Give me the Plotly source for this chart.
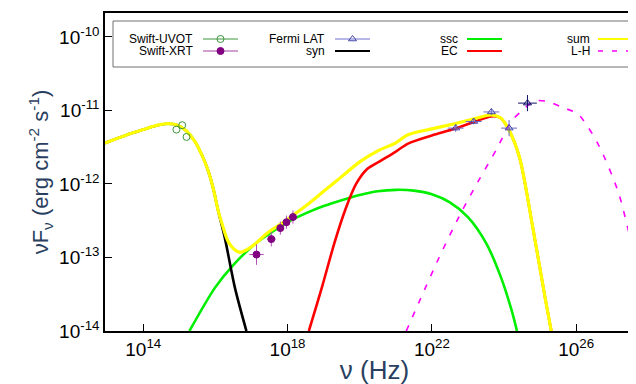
import numpy as np
import plotly.graph_objects as go

# ---------------- data (log10 values) ----------------
syn_lognu = [12.90, 13.5, 14.0, 14.4, 14.69, 14.95, 15.2, 15.43, 15.62, 15.80, 15.95, 16.08, 16.26, 16.54, 16.86]
syn_logf = [-11.45, -11.34, -11.26, -11.2, -11.18, -11.2, -11.28, -11.42, -11.6, -11.82, -12.08, -12.37, -12.73, -13.41, -14.0]

ssc_lognu = [15.28, 15.99, 16.5, 17.09, 17.46, 18.0, 18.5, 19.0, 19.5, 20.0, 20.5, 21.0, 21.5, 22.0, 22.5, 23.0, 23.5, 23.9, 24.2, 24.36]
ssc_logf = [-14.0, -13.41, -13.1, -12.82, -12.69, -12.52, -12.40, -12.30, -12.22, -12.15, -12.10, -12.08, -12.09, -12.14, -12.25, -12.45, -12.8, -13.25, -13.7, -14.0]

ec_lognu = [18.59, 18.95, 19.3, 19.6, 19.9, 20.2, 20.6, 21.0, 21.34, 22.0, 22.63, 23.2, 23.64, 23.9, 24.11, 24.43, 24.8, 25.14, 25.31]
ec_logf = [-14.0, -13.41, -12.8, -12.35, -12.0, -11.8, -11.68, -11.56, -11.45, -11.34, -11.25, -11.15, -11.08, -11.1, -11.24, -11.64, -12.6, -13.55, -14.0]

sum_lognu = [12.90, 13.5, 14.0, 14.4, 14.69, 14.95, 15.2, 15.43, 15.62, 15.80, 15.95, 16.08, 16.22, 16.35, 16.5, 16.68, 16.85, 17.09, 17.46, 17.8, 18.0, 18.5, 19.0, 19.5, 20.0, 20.5, 21.0, 21.34, 22.0, 22.63, 23.2, 23.64, 23.9, 24.11, 24.43, 24.8, 25.14, 25.31]
sum_logf = [-11.45, -11.34, -11.26, -11.2, -11.18, -11.2, -11.28, -11.42, -11.6, -11.82, -12.08, -12.37, -12.6, -12.78, -12.88, -12.93, -12.9, -12.82, -12.66, -12.55, -12.48, -12.3, -12.1, -11.9, -11.7, -11.55, -11.44, -11.33, -11.25, -11.18, -11.11, -11.06, -11.1, -11.24, -11.64, -12.6, -13.55, -14.0]

lh_lognu = [21.29, 21.66, 22.2, 22.8, 23.3, 23.79, 24.20, 24.48, 24.85, 25.22, 25.63, 26.05, 26.6, 27.16, 27.43, 27.88]
lh_logf = [-14.0, -13.59, -13.0, -12.4, -11.95, -11.53, -11.15, -11.01, -10.87, -10.88, -10.96, -11.05, -11.45, -12.1, -12.6, -13.6]

uvot_lognu = [14.92, 15.08, 15.2]
uvot_logf = [-11.26, -11.2, -11.36]

xrt_lognu = [17.14, 17.55, 17.8, 17.97, 18.15]
xrt_logf = [-12.96, -12.75, -12.6, -12.52, -12.45]
xrt_dlognu = [0.2, 0.12, 0.1, 0.1, 0.12]
xrt_dlogf = [0.14, 0.1, 0.09, 0.09, 0.09]

lat_lognu = [22.66, 23.16, 23.65, 24.14]
lat_logf = [-11.24, -11.15, -11.02, -11.24]
lat_dlognu = [0.22, 0.22, 0.22, 0.22]
lat_dlogf = [0.05, 0.04, 0.04, 0.11]

hi_lognu = [24.65]
hi_logf = [-10.90]
hi_dlognu = [0.26]
hi_dlogf = [0.11]

x_tick_exp = [14, 18, 22, 26]
y_tick_exp = [-14, -13, -12, -11, -10]

# ---------------- helpers ----------------
def lin(a):
    return 10.0 ** np.asarray(a, dtype=float)

def errs(logv, dlog):
    v = lin(logv)
    d = np.asarray(dlog, dtype=float)
    return v * (10 ** d - 1), v * (1 - 10 ** (-d))

fig = go.Figure()

def curve(lx, ly, color, width=2.6, dash="solid"):
    fig.add_trace(go.Scatter(x=lin(lx), y=lin(ly), mode="lines",
                             line=dict(color=color, width=width, dash=dash, shape="spline", smoothing=0.8),
                             showlegend=False, hoverinfo="skip"))

curve(ssc_lognu, ssc_logf, "#00ee00")
curve(syn_lognu, syn_logf, "#000000")
curve(ec_lognu, ec_logf, "#ff0000")
curve(sum_lognu, sum_logf, "#ffff00", width=3.2)
curve(lh_lognu, lh_logf, "#ff00ff", width=1.6, dash="6px,9px")

def points(lx, ly, dlx, dly, color, ecolor, symbol, size):
    xp, xm = errs(lx, dlx) if dlx is not None else (None, None)
    yp, ym = errs(ly, dly) if dly is not None else (None, None)
    fig.add_trace(go.Scatter(
        x=lin(lx), y=lin(ly), mode="markers",
        marker=dict(symbol=symbol, size=size, color=color, line=dict(color=color, width=1)),
        error_x=dict(type="data", symmetric=False, array=xp, arrayminus=xm, color=ecolor, thickness=1, width=0,
                     visible=dlx is not None),
        error_y=dict(type="data", symmetric=False, array=yp, arrayminus=ym, color=ecolor, thickness=1, width=0,
                     visible=dly is not None),
        showlegend=False, hoverinfo="skip"))

points(uvot_lognu, uvot_logf, None, None, "#3c963c", "#3c963c", "circle-open", 7)
points(xrt_lognu, xrt_logf, xrt_dlognu, xrt_dlogf, "#800080", "#b050b0", "circle", 7)
points(lat_lognu, lat_logf, lat_dlognu, lat_dlogf, "#4646a8", "#6a6ac8", "triangle-up-open", 7)
points(hi_lognu, hi_logf, hi_dlognu, hi_dlogf, "#10106a", "#10106a", "triangle-up-open", 7)

# ---------------- legend (drawn in pixel space of an overlay axis) ----------------
L, R, T, B = 97, 636, 5, 323
W, H = 636, 384
legend_rows = [31, 43]
legend_entries = [
    # (text, text_right_x, line_x0, line_x1, row, color, dash, width, marker)
    ("Swift-UVOT", 187, 195, 230, 0, "#3c963c", "solid", 1, ("circle-open", "#3c963c")),
    ("Swift-XRT", 187, 195, 230, 1, "#a040a0", "solid", 1, ("circle", "#800080")),
    ("Fermi LAT", 319, 327, 362, 0, "#7070d0", "solid", 1, ("triangle-up-open", "#4646a8")),
    ("syn", 319, 327, 362, 1, "#000000", "solid", 2.2, None),
    ("ssc", 452, 459, 494, 0, "#00ee00", "solid", 2.2, None),
    ("EC", 452, 459, 494, 1, "#ff0000", "solid", 2.2, None),
    ("sum", 584, 590, 625, 0, "#ffff00", "solid", 2.2, None),
    ("L-H", 584, 590, 625, 1, "#ff00ff", "5px,9px", 1.6, None),
]
for text, tx, x0, x1, row, color, dash, w, mk in legend_entries:
    yy = legend_rows[row]
    fig.add_trace(go.Scatter(x=[x0, x1], y=[yy, yy], xaxis="x2", yaxis="y2", mode="lines",
                             line=dict(color=color, width=w, dash=dash), showlegend=False, hoverinfo="skip"))
    if mk is not None:
        fig.add_trace(go.Scatter(x=[(x0 + x1) / 2], y=[yy], xaxis="x2", yaxis="y2", mode="markers",
                                 marker=dict(symbol=mk[0], size=7, color=mk[1], line=dict(color=mk[1], width=1)),
                                 showlegend=False, hoverinfo="skip"))
    fig.add_annotation(x=tx, y=yy, xref="x2", yref="y2", text=text, showarrow=False,
                       xanchor="right", yanchor="middle",
                       font=dict(family="Liberation Sans, Arial, sans-serif", size=12, color="#000000"))

fig.add_shape(type="rect", xref="x2", yref="y2", x0=105, x1=631, y0=13, y1=59,
              line=dict(color="#707070", width=1), fillcolor="rgba(0,0,0,0)")

tick_font = dict(family="Liberation Sans, Arial, sans-serif", size=19, color="#000000")

fig.update_layout(
    width=W, height=H,
    margin=dict(l=L, r=W - R, t=T, b=H - B),
    paper_bgcolor="white", plot_bgcolor="white",
    showlegend=False,
    xaxis=dict(type="log", range=[12.94, 27.88],
               tickvals=[10.0 ** e for e in x_tick_exp],
               ticktext=["10<sup>%d</sup>" % e for e in x_tick_exp],
               ticks="inside", ticklen=7, tickwidth=1.3, tickcolor="black",
               showline=True, linecolor="black", linewidth=1.5, mirror=True,
               showgrid=False, zeroline=False, tickfont=tick_font,
               title=dict(text="ν (Hz)", font=dict(family="Liberation Sans, Arial, sans-serif", size=26),
                          standoff=2)),
    yaxis=dict(type="log", range=[-14, -9.674],
               tickvals=[10.0 ** e for e in y_tick_exp],
               ticktext=["10<sup>%d</sup>" % e for e in y_tick_exp],
               ticks="inside", ticklen=7, tickwidth=1.3, tickcolor="black",
               showline=True, linecolor="black", linewidth=1.5, mirror=False,
               showgrid=False, zeroline=False, tickfont=tick_font,
               title=dict(text="νF<sub>ν</sub> (erg cm<sup>-2</sup> s<sup>-1</sup>)",
                          font=dict(family="Liberation Sans, Arial, sans-serif", size=22),
                          standoff=4)),
    xaxis2=dict(overlaying="x", range=[L, R], visible=False, fixedrange=True),
    yaxis2=dict(overlaying="y", range=[B, T], visible=False, fixedrange=True),
)

fig.write_html("out.html")
